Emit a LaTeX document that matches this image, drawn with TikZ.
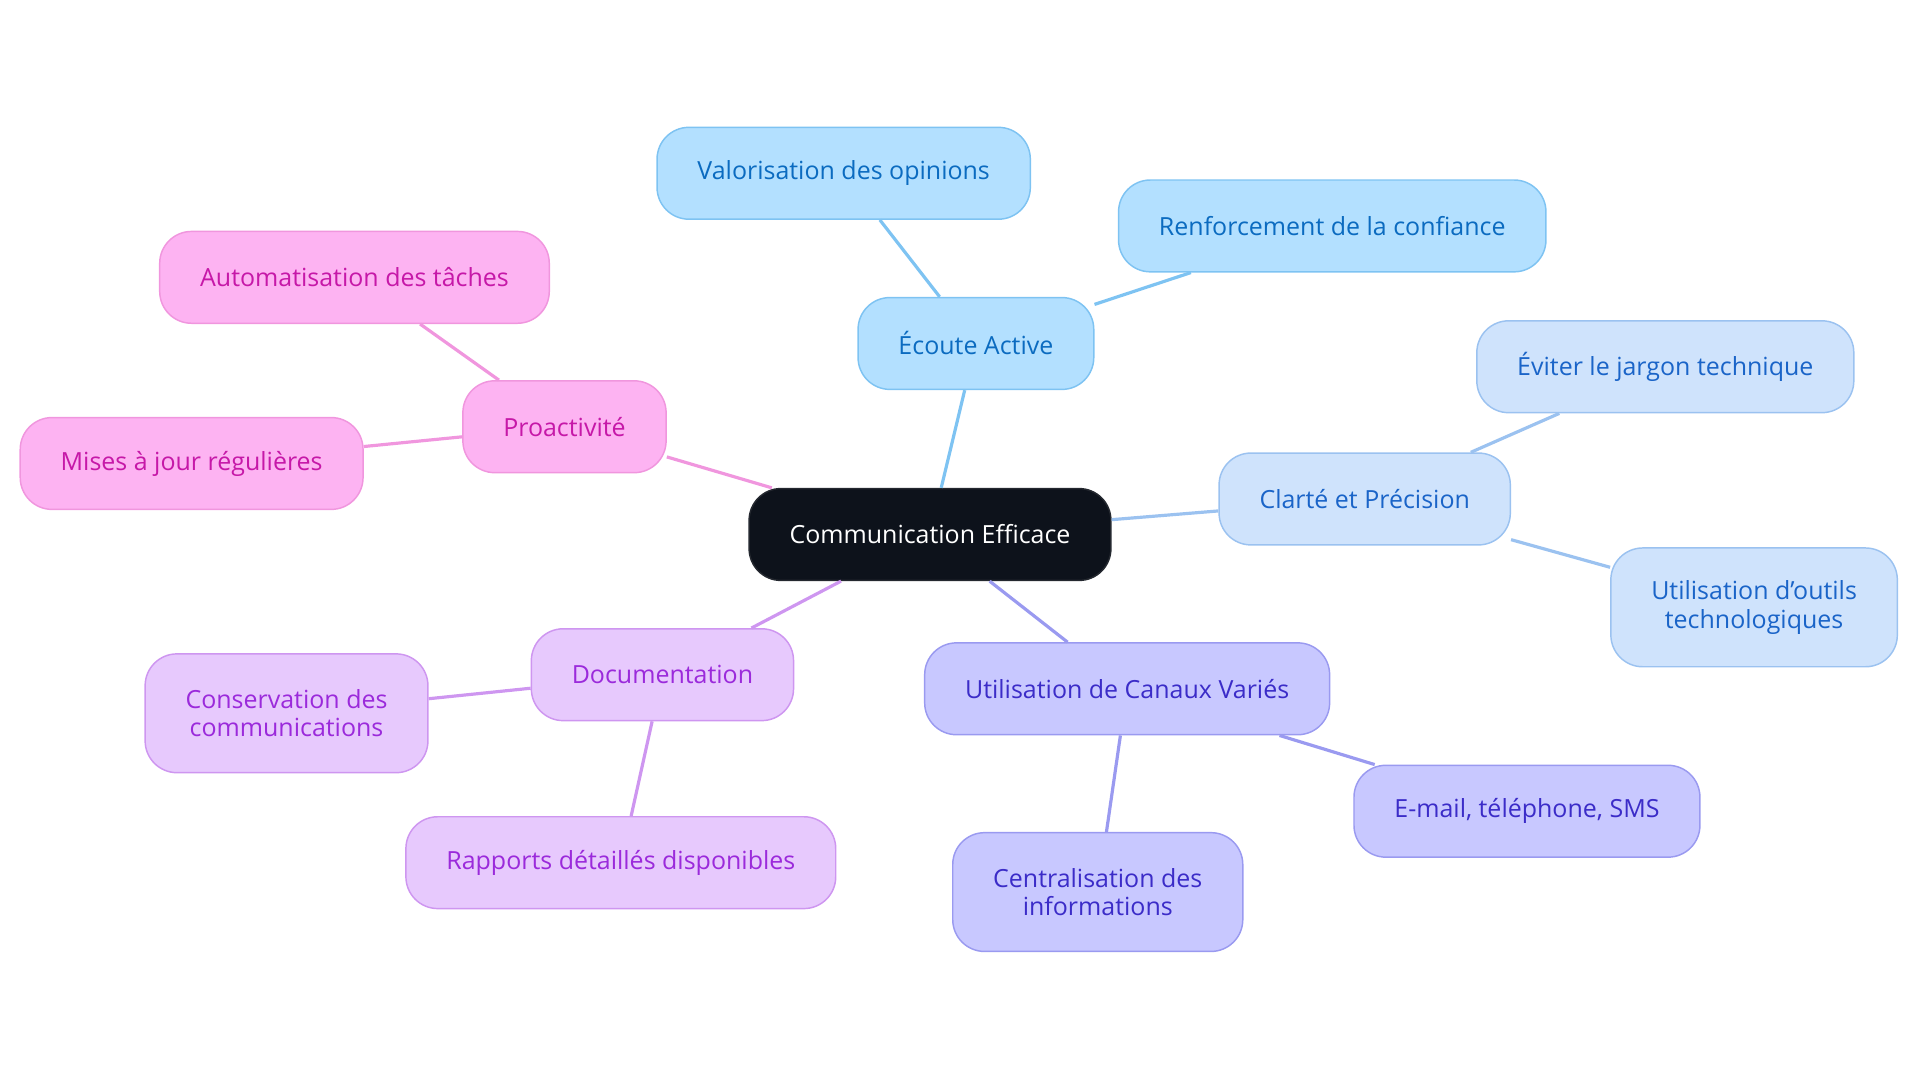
\documentclass[tikz,border=0pt]{standalone}
\usepackage{fontspec}
\setmainfont{Open Sans}
\usepackage{tikz}
\usetikzlibrary{positioning, calc}
\definecolor{rootfill}{HTML}{0D121B}
\definecolor{skyfill}{HTML}{B3E0FF}
\definecolor{skyline}{HTML}{7EC3F2}
\definecolor{skytext}{HTML}{0B6BC0}
\definecolor{bluefill}{HTML}{CFE3FC}
\definecolor{blueline}{HTML}{9BC2F0}
\definecolor{bluetext}{HTML}{1A64C8}
\definecolor{violetfill}{HTML}{C8C8FF}
\definecolor{violetline}{HTML}{9A9AF0}
\definecolor{violettext}{HTML}{3B2CC8}
\definecolor{lilacfill}{HTML}{E7C9FD}
\definecolor{lilacline}{HTML}{CE96F0}
\definecolor{lilactext}{HTML}{9B2ADB}
\definecolor{pinkfill}{HTML}{FDB3F2}
\definecolor{pinkline}{HTML}{F096DE}
\definecolor{pinktext}{HTML}{C618A8}

\tikzset{
    idea/.style={rectangle, rounded corners=13pt, line width=0.6pt, align=center,
        inner xsep=16.5pt, inner ysep=12pt, minimum height=37.5pt,
        font=\fontsize{10.2}{11.6}\selectfont},
    rootbox/.style={idea, fill=rootfill, draw=rootfill!80!gray, text=white},
    skybox/.style={idea, fill=skyfill, draw=skyline, text=skytext},
    bluebox/.style={idea, fill=bluefill, draw=blueline, text=bluetext},
    violetbox/.style={idea, fill=violetfill, draw=violetline, text=violettext},
    lilacbox/.style={idea, fill=lilacfill, draw=lilacline, text=lilactext},
    pinkbox/.style={idea, fill=pinkfill, draw=pinkline, text=pinktext},
    link/.style={line width=1.3pt}
}

\begin{document}
\begin{tikzpicture}[x=0.5pt, y=-0.5pt]
    \useasboundingbox (0,0) rectangle (1568,884);

    \node[rootbox] (comm) at (759.5,436.5) {Communication Efficace};

    % main branches and their leaves (h = box height)
    \foreach \n/\x/\y/\s/\h/\t in {
        ecoute/797/280.5/skybox/37.5/{Écoute Active},
        valor/689/141.5/skybox/37.5/{Valorisation des opinions},
        renfor/1088/184.5/skybox/37.5/{Renforcement de la confiance},
        clarte/1114.5/407.5/bluebox/37.5/{Clarté et Précision},
        jargon/1360/299.5/bluebox/37.5/{Éviter le jargon technique},
        outils/1432.5/496/bluebox/48.5/{Utilisation d'outils\\technologiques},
        canaux/920.5/562.5/violetbox/37.5/{Utilisation de Canaux Variés},
        email/1247/662.5/violetbox/37.5/{E-mail, téléphone, SMS},
        centr/896.5/728.5/violetbox/48.5/{Centralisation des\\informations},
        docu/541/551/lilacbox/37.5/{Documentation},
        conserv/234/582.5/lilacbox/48.5/{Conservation des\\communications},
        rapports/507/704.5/lilacbox/37.5/{Rapports détaillés disponibles},
        proact/461/348.5/pinkbox/37.5/{Proactivité},
        autom/289.5/226.5/pinkbox/37.5/{Automatisation des tâches},
        mises/156.5/378.5/pinkbox/37.5/{Mises à jour régulières}}
        \node[\s, minimum height=\h pt] (\n) at (\x,\y) {\t};

    % connectors
    \foreach \a/\b/\c in {
        comm/ecoute/skyline, ecoute/valor/skyline, ecoute/renfor/skyline,
        comm/clarte/blueline, clarte/jargon/blueline, clarte/outils/blueline,
        comm/canaux/violetline, canaux/email/violetline, canaux/centr/violetline,
        comm/docu/lilacline, docu/conserv/lilacline, docu/rapports/lilacline,
        comm/proact/pinkline, proact/autom/pinkline, proact/mises/pinkline}
        \draw[link, draw=\c] (\a) -- (\b);

\end{tikzpicture}
\end{document}
